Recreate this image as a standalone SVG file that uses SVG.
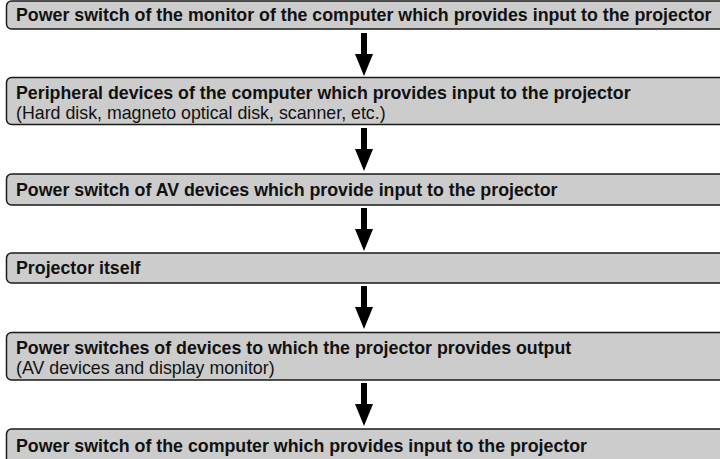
<svg xmlns="http://www.w3.org/2000/svg" width="720" height="459" viewBox="0 0 720 459">
<style>
.box{fill:#cccccc;stroke:#1a1a1a;stroke-width:1.5}
.b{font-family:"Liberation Sans",Arial,sans-serif;font-weight:bold;font-size:17.8px;fill:#111}
.n{font-family:"Liberation Sans",Arial,sans-serif;font-size:17.8px;fill:#111}
.ar{fill:#000}
</style>
<defs>
<path id="arrow" class="ar" d="M-3,0 H3 V21 H9 L0,43 L-9,21 H-3 Z"/>
</defs>
<rect width="720" height="459" fill="#fff"/>
<g id="n1"><rect class="box" x="6.5" y="1" width="730" height="28" rx="5"/><text class="b" x="16" y="21">Power switch of the monitor of the computer which provides input to the projector</text></g>
<g id="n2"><rect class="box" x="6.5" y="77.5" width="730" height="47" rx="5"/><text class="b" x="16" y="99">Peripheral devices of the computer which provides input to the projector</text><text class="n" x="16" y="119">(Hard disk, magneto optical disk, scanner, etc.)</text></g>
<g id="n3"><rect class="box" x="6.5" y="174" width="730" height="31" rx="5"/><text class="b" x="16" y="195.5">Power switch of AV devices which provide input to the projector</text></g>
<g id="n4"><rect class="box" x="6.5" y="253" width="730" height="30" rx="5"/><text class="b" x="16" y="274">Projector itself</text></g>
<g id="n5"><rect class="box" x="6.5" y="332.5" width="730" height="47.5" rx="5"/><text class="b" x="16" y="354">Power switches of devices to which the projector provides output</text><text class="n" x="16" y="373.5">(AV devices and display monitor)</text></g>
<g id="n6"><rect class="box" x="6.5" y="429" width="730" height="40" rx="5"/><text class="b" x="16" y="451.5">Power switch of the computer which provides input to the projector</text></g>
<g id="connectors">
<use href="#arrow" x="364" y="33"/>
<use href="#arrow" x="364" y="128"/>
<use href="#arrow" x="364" y="208"/>
<use href="#arrow" x="364" y="286"/>
<use href="#arrow" x="364" y="383"/>
</g>
</svg>
